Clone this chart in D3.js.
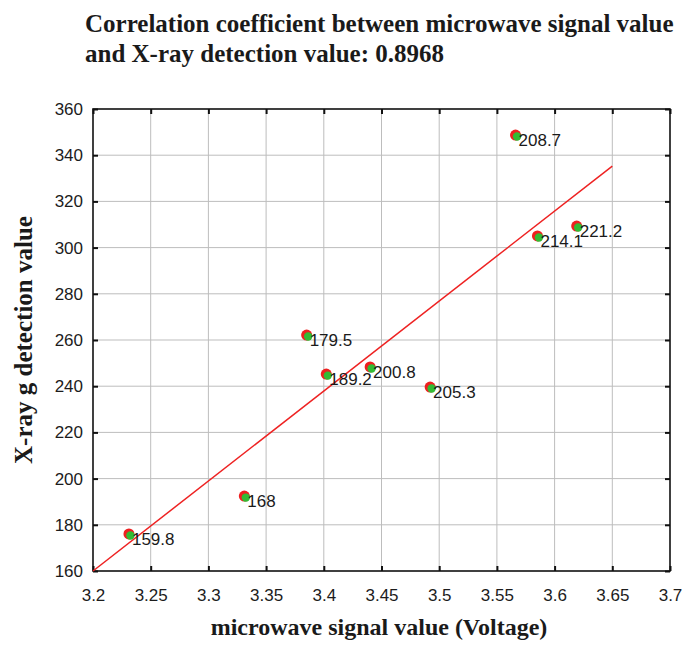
<!doctype html>
<html>
  <head>
    <meta charset="utf-8">
    <title>Microwave vs X-ray</title>
    <script src="https://cdnjs.cloudflare.com/ajax/libs/d3/7.8.5/d3.min.js"></script>
    <style>
      body { margin: 0; background: #fff; }
      svg text { fill: #1a1a1a; }
    </style>
  </head>
  <body>
    <div id="chart"></div>
    <script>
      // data
      const voltage = [3.232, 3.332, 3.386, 3.403, 3.441, 3.493, 3.567, 3.586, 3.620];
      const xray    = [175.6, 192.0, 261.7, 244.8, 247.9, 239.2, 348.3, 304.6, 308.9];
      const labels  = ['159.8', '168', '179.5', '189.2', '200.8', '205.3', '208.7', '214.1', '221.2'];
      const fitX = [3.2, 3.65];
      const fitY = [160, 335.3];
      const xTicks = [3.2, 3.25, 3.3, 3.35, 3.4, 3.45, 3.5, 3.55, 3.6, 3.65, 3.7];
      const yTicks = [160, 180, 200, 220, 240, 260, 280, 300, 320, 340, 360];
      const titleLines = ['Correlation coefficient between microwave signal value',
                          'and X-ray detection value: 0.8968'];

      const W = 684, H = 645;
      const pLeft = 93, pRight = 670, pTop = 109, pBottom = 571;

      const svg = d3.select('#chart').append('svg')
        .attr('width', W).attr('height', H);

      const x = d3.scaleLinear().domain([3.2, 3.7]).range([pLeft, pRight]);
      const y = d3.scaleLinear().domain([160, 360]).range([pBottom, pTop]);

      // grid
      svg.append('g').selectAll('line')
        .data(xTicks.slice(1, -1)).join('line')
        .attr('x1', d => x(d)).attr('x2', d => x(d))
        .attr('y1', pTop).attr('y2', pBottom)
        .style('stroke', '#bdbdbd').style('stroke-width', 1);
      svg.append('g').selectAll('line')
        .data(yTicks.slice(1, -1)).join('line')
        .attr('y1', d => y(d)).attr('y2', d => y(d))
        .attr('x1', pLeft).attr('x2', pRight)
        .style('stroke', '#bdbdbd').style('stroke-width', 1);

      // axes (ticks inward on all four sides)
      const fmtX = d => String(+d.toFixed(2));
      svg.append('g').attr('transform', `translate(0,${pBottom})`)
        .call(d3.axisBottom(x).tickValues(xTicks).tickSize(-5).tickPadding(18).tickFormat(fmtX))
        .call(g => g.select('.domain').remove());
      svg.append('g').attr('transform', `translate(0,${pTop})`)
        .call(d3.axisTop(x).tickValues(xTicks).tickSize(-5).tickFormat(''))
        .call(g => g.select('.domain').remove());
      svg.append('g').attr('transform', `translate(${pLeft},0)`)
        .call(d3.axisLeft(y).tickValues(yTicks).tickSize(-5).tickPadding(10))
        .call(g => g.select('.domain').remove());
      svg.append('g').attr('transform', `translate(${pRight},0)`)
        .call(d3.axisRight(y).tickValues(yTicks).tickSize(-5).tickFormat(''))
        .call(g => g.select('.domain').remove());

      svg.selectAll('.tick line').style('stroke', '#111').style('stroke-width', 2);
      svg.selectAll('.tick text')
        .style('font-family', 'Liberation Sans, Arial, sans-serif')
        .style('font-size', '17px').style('fill', '#1c1c1c');

      svg.append('rect')
        .attr('x', pLeft).attr('y', pTop)
        .attr('width', pRight - pLeft).attr('height', pBottom - pTop)
        .style('fill', 'none').style('stroke', '#111').style('stroke-width', 1.6);

      // regression line
      svg.append('line')
        .attr('x1', x(fitX[0])).attr('y1', y(fitY[0]))
        .attr('x2', x(fitX[1])).attr('y2', y(fitY[1]))
        .style('stroke', '#ee2222').style('stroke-width', 1.5);

      // points
      const pts = svg.append('g').selectAll('g')
        .data(voltage.map((v, i) => ({v: v, r: xray[i], lab: labels[i]})))
        .join('g')
        .attr('transform', d => `translate(${x(d.v)},${y(d.r)})`);
      pts.append('circle').attr('r', 5.5).attr('cx', -1).attr('cy', -1)
        .style('fill', '#ee2020');
      pts.append('circle').attr('r', 4.2).attr('cx', 0.5).attr('cy', 0.5)
        .style('fill', '#33bb33');
      pts.append('text')
        .attr('x', 2).attr('y', 10)
        .style('font-family', 'Liberation Sans, Arial, sans-serif')
        .style('font-size', '17px')
        .text(d => d.lab);

      // title
      svg.append('g').selectAll('text')
        .data(titleLines).join('text')
        .attr('x', 85).attr('y', (d, i) => 32 + i * 30)
        .style('font-family', 'Liberation Serif, Times New Roman, serif')
        .style('font-size', '25px')
        .style('font-weight', 'bold')
        .text(d => d);

      // axis titles
      svg.append('text')
        .attr('x', 379).attr('y', 635)
        .attr('text-anchor', 'middle')
        .style('font-family', 'Liberation Serif, Times New Roman, serif')
        .style('font-size', '24px').style('font-weight', 'bold')
        .text('microwave signal value (Voltage)');
      svg.append('text')
        .attr('transform', `translate(32,${(pTop + pBottom) / 2}) rotate(-90)`)
        .attr('text-anchor', 'middle')
        .style('font-family', 'Liberation Serif, Times New Roman, serif')
        .style('font-size', '25px').style('font-weight', 'bold')
        .text('X-ray g detection value');
    </script>
  </body>
</html>
